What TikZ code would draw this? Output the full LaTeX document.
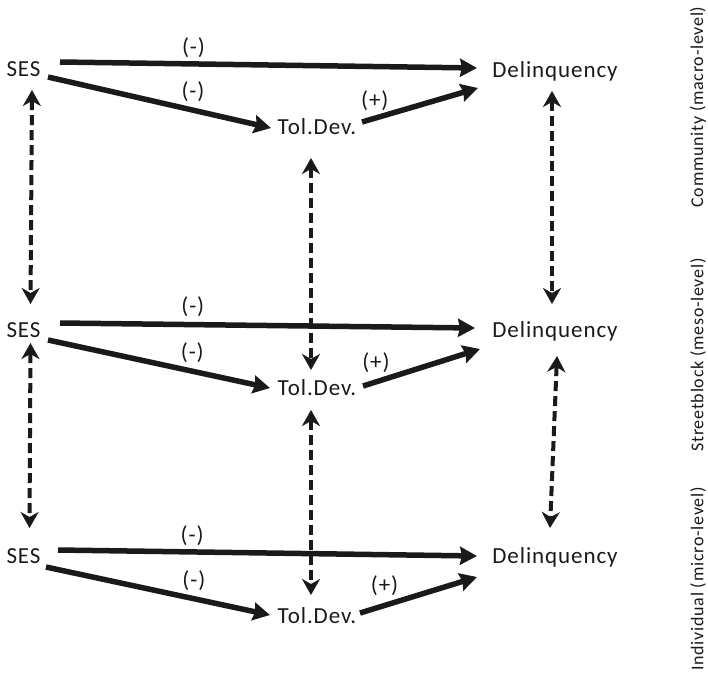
\documentclass[tikz,border=0pt]{standalone}
\usepackage{fontspec}
\setmainfont{Carlito}[LetterSpace=4]
\usetikzlibrary{arrows.meta,calc}
\definecolor{ink}{HTML}{1A1A1A}
\begin{document}
\begin{tikzpicture}[x=1pt,y=-1pt,
  var/.style={anchor=base,inner sep=0pt,font=\fontsize{23}{25}\selectfont,text=ink},
  sign/.style={inner sep=0pt,font=\fontsize{23}{25}\selectfont,text=ink},
  level/.style={rotate=90,inner sep=0pt,font=\fontsize{18}{20}\selectfont,text=ink},
  effect/.style={draw=ink,line width=5.5pt,-{Stealth[length=17pt,width=18pt,inset=2pt]}},
  link/.style={draw=ink,line width=4pt,dash pattern=on 10pt off 5pt,
    {Stealth[length=16pt,width=18pt,inset=5pt]}-{Stealth[length=16pt,width=18pt,inset=5pt]}}]
\useasboundingbox (0,0) rectangle (708,672);

% variables on the three levels
\node[var] (ses1) at (23.5,76) {SES};
\node[var] (tol1) at (317,134) {Tol.Dev.};
\node[var] (del1) at (555,77) {Delinquency};
\node[var] (ses2) at (23.5,337) {SES};
\node[var] (tol2) at (317,395) {Tol.Dev.};
\node[var] (del2) at (555,337) {Delinquency};
\node[var] (ses3) at (23.5,563) {SES};
\node[var] (tol3) at (317,623) {Tol.Dev.};
\node[var] (del3) at (555,563) {Delinquency};

% level labels
\node[level] (lv1) at (698,107) {Community (macro-level)};
\node[level] (lv2) at (698,355) {Streetblock (meso-level)};
\node[level] (lv3) at (698,579) {Individual (micro-level)};

% direct and mediated effects, level 1
\draw[effect] ($(ses1.base)+(36.5,-14)$) -- node[sign,pos=0.32,yshift=16pt] (m1a) {(-)} ($(del1.base)+(-78,-9)$);
\draw[effect] ($(ses1.base)+(24.5,1)$) -- node[sign,pos=0.65,yshift=18pt] (m1b) {(-)} ($(tol1.base)+(-46,-6)$);
\draw[effect] ($(tol1.base)+(45,-12)$) -- node[sign,pos=0.11,yshift=18pt] (p1) {(+)} ($(del1.base)+(-77,11)$);

% level 2
\draw[effect] ($(ses2.base)+(36.5,-14)$) -- node[sign,pos=0.32,yshift=18pt] (m2a) {(-)} ($(del2.base)+(-80,-9)$);
\draw[effect] ($(ses2.base)+(24.5,3)$) -- node[sign,pos=0.65,yshift=19pt] (m2b) {(-)} ($(tol2.base)+(-47,-7)$);
\draw[effect] ($(tol2.base)+(46,-9)$) -- node[sign,pos=0.11,yshift=19pt] (p2) {(+)} ($(del2.base)+(-75,12)$);

% level 3
\draw[effect] ($(ses3.base)+(34.5,-13)$) -- node[sign,pos=0.32,yshift=16pt] (m3a) {(-)} ($(del3.base)+(-78,-7)$);
\draw[effect] ($(ses3.base)+(22.5,4)$) -- node[sign,pos=0.66,yshift=18pt] (m3b) {(-)} ($(tol3.base)+(-47,-8)$);
\draw[effect] ($(tol3.base)+(43,-10)$) -- node[sign,pos=0.21,yshift=20pt] (p3) {(+)} ($(del3.base)+(-78,14)$);

% cross-level links
\draw[link] ($(ses1.base)+(8.5,14)$) -- ($(ses2.base)+(7,-33)$);
\draw[link] ($(ses2.base)+(7,6)$) -- ($(ses3.base)+(6,-35)$);
\draw[link] ($(tol1.base)+(-6,24)$) -- ($(tol2.base)+(-6,-25)$);
\draw[link] ($(tol2.base)+(-6,15)$) -- ($(tol3.base)+(-6,-28)$);
\draw[link] ($(del1.base)+(-3,14)$) -- ($(del2.base)+(-3,-33)$);
\draw[link] ($(del2.base)+(2,19)$) -- ($(del3.base)+(-5,-35)$);
\end{tikzpicture}
\end{document}
